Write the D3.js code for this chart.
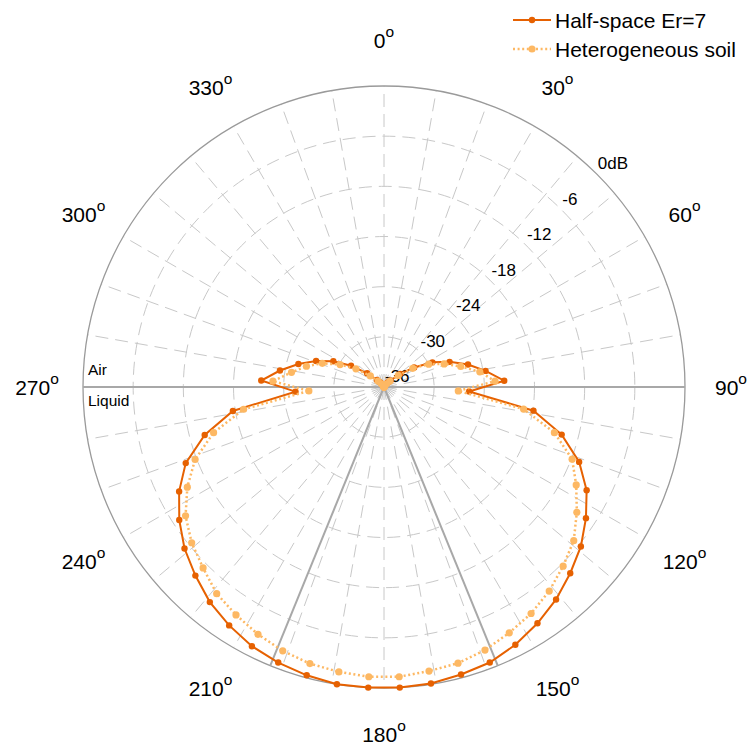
<!DOCTYPE html>
<html>
<head>
<meta charset="utf-8">
<script src="https://cdn.jsdelivr.net/npm/d3@7/dist/d3.min.js"></script>
<style>
  html, body { margin: 0; padding: 0; background: #fff; }
  text { font-family: "Liberation Sans", Arial, Helvetica, sans-serif; fill: #000; }
</style>
</head>
<body>
<svg id="chart" width="748" height="747"></svg>
<script>
// ---- data ----
const angles = [3, 9, 15, 21, 27, 33, 39, 45, 51, 57, 63, 69, 75, 81, 87,
  93, 99, 105, 111, 117, 123, 129, 135, 141, 147, 153, 159, 165, 171, 177,
  183, 189, 195, 201, 207, 213, 219, 225, 231, 237, 243, 249, 255, 261, 267,
  273, 279, 285, 291, 297, 303, 309, 315, 321, 327, 333, 339, 345, 351, 357];

const halfSpace = [-36, -36, -36, -35.9, -35.8, -35.6, -35.3, -34.9, -33.5, -31.7, -29.5, -27.6, -25.6, -23.7, -21.6,
  -25.8, -17.9, -14.0, -11.0, -8.8, -7.2, -5.7, -4.5, -3.3, -2.3, -1.4, -0.7, -0.4, -0.1, 0,
  0, 0, -0.3, -0.7, -1.2, -2.0, -2.9, -4.1, -5.3, -6.8, -8.5, -10.6, -13.8, -17.7, -25.4,
  -21.3, -23.4, -25.4, -27.3, -29.2, -31.3, -33.4, -34.8, -35.3, -35.6, -35.8, -35.9, -36, -36, -36];

const heterogeneous = [-36, -36, -36, -36, -36, -35.8, -35.5, -35.0, -33.8, -31.9, -30.0, -28.3, -26.5, -24.4, -22.7,
  -27.1, -19.1, -14.9, -11.9, -10.2, -8.5, -6.8, -5.7, -4.6, -3.7, -3.0, -2.3, -1.8, -1.6, -1.3,
  -1.3, -1.5, -1.75, -2.2, -2.8, -3.5, -4.2, -5.4, -6.4, -7.7, -9.6, -11.8, -14.9, -19.0, -27.0,
  -22.7, -24.8, -26.4, -28.1, -30.1, -32.0, -33.9, -35.0, -35.5, -35.8, -36, -36, -36, -36, -36];

const radialTicks = [0, -6, -12, -18, -24, -30, -36];
const radialTickLabels = ["0dB", "-6", "-12", "-18", "-24", "-30", "-36"];
const angleTicks = [0, 30, 60, 90, 120, 150, 180, 210, 240, 270, 300, 330];
const spokeAngles = [0, 10, 20, 30, 40, 50, 60, 70, 80, 90, 100, 110, 120, 130, 140, 150, 160, 170,
  180, 190, 200, 210, 220, 230, 240, 250, 260, 270, 280, 290, 300, 310, 320, 330, 340, 350];
const criticalAngles = [157.8, 202.2];
const seriesNames = ["Half-space Er=7", "Heterogeneous soil"];
const zoneLabels = ["Air", "Liquid"];

// ---- layout ----
const svg = d3.select("#chart");
const cx = 384, cy = 387, R = 301;
const r = d3.scaleLinear().domain([-36, 0]).range([0, R]).clamp(true);
const rad = d => d * Math.PI / 180;
const px = (a, rr) => rr * Math.sin(rad(a));
const py = (a, rr) => -rr * Math.cos(rad(a));

const g = svg.append("g").attr("transform", `translate(${cx},${cy})`);

// grid circles
g.selectAll("circle.grid").data(radialTicks.filter(t => t > -36 && t < 0)).enter()
  .append("circle").attr("class", "grid")
  .attr("r", d => r(d)).attr("fill", "none")
  .attr("stroke", "#c8c8c8").attr("stroke-width", 1).attr("stroke-dasharray", "13,7");

// spokes
g.selectAll("line.spoke").data(spokeAngles).enter()
  .append("line").attr("class", "spoke")
  .attr("x1", 0).attr("y1", 0)
  .attr("x2", d => px(d, R)).attr("y2", d => py(d, R))
  .attr("stroke", "#c8c8c8").attr("stroke-width", 1).attr("stroke-dasharray", "13,7");

// outer circle
g.append("circle").attr("r", r(0)).attr("fill", "none").attr("stroke", "#9a9a9a").attr("stroke-width", 1.3);

// air / liquid interface
g.append("line").attr("x1", px(270, R)).attr("y1", py(270, R)).attr("x2", px(90, R)).attr("y2", py(90, R))
  .attr("stroke", "#a8a8a8").attr("stroke-width", 2);

// critical angle lines
g.selectAll("line.crit").data(criticalAngles).enter()
  .append("line").attr("class", "crit")
  .attr("x1", 0).attr("y1", 0)
  .attr("x2", d => px(d, R)).attr("y2", d => py(d, R))
  .attr("stroke", "#a8a8a8").attr("stroke-width", 2);

// radial tick labels
g.selectAll("text.rt").data(radialTicks).enter()
  .append("text").attr("class", "rt")
  .attr("x", d => px(45, r(d)) + 1)
  .attr("y", d => py(45, r(d)) - 5)
  .attr("font-size", 17)
  .text((d, i) => radialTickLabels[i]);

// angle labels
const al = g.selectAll("text.at").data(angleTicks).enter()
  .append("text").attr("class", "at")
  .attr("x", d => px(d, 347)).attr("y", d => py(d, 347) + 8)
  .attr("text-anchor", "middle").attr("font-size", 21);
al.append("tspan").text(d => d);
al.append("tspan").attr("font-size", 15.5).attr("dy", -11).text("o");

// zone labels
g.append("text").attr("x", px(270, R) + 5).attr("y", -12).attr("font-size", 15.5).text(zoneLabels[0]);
g.append("text").attr("x", px(270, R) + 5).attr("y", 19).attr("font-size", 15.5).text(zoneLabels[1]);

// series
const colors = ["#e66101", "#fdb863"];
const seriesData = [halfSpace, heterogeneous].map(vals => angles.map((a, i) => ({ a, v: vals[i] })));
const line = d3.lineRadial().angle(d => rad(d.a)).radius(d => r(d.v)).curve(d3.curveLinearClosed);

seriesData.forEach((data, si) => {
  const sg = g.append("g");
  sg.append("path").datum(data).attr("d", line).attr("fill", "none")
    .attr("stroke", colors[si]).attr("stroke-width", si === 0 ? 2 : 2.5)
    .attr("stroke-dasharray", si === 0 ? null : "2,2.6");
  sg.selectAll("circle").data(data).enter().append("circle")
    .attr("cx", d => px(d.a, r(d.v))).attr("cy", d => py(d.a, r(d.v)))
    .attr("r", si === 0 ? 3.2 : 3.6).attr("fill", colors[si]);
});

// legend
const lg = svg.append("g");
seriesNames.forEach((name, i) => {
  const y = 20 + i * 29;
  lg.append("line").attr("x1", 513).attr("x2", 551).attr("y1", y).attr("y2", y)
    .attr("stroke", colors[i]).attr("stroke-width", i === 0 ? 2 : 2.5)
    .attr("stroke-dasharray", i === 0 ? null : "2,2.6");
  lg.append("circle").attr("cx", 532).attr("cy", y).attr("r", i === 0 ? 3.2 : 3.6).attr("fill", colors[i]);
  lg.append("text").attr("x", 555).attr("y", y + 7.5).attr("font-size", 21).text(name);
});
</script>
</body>
</html>
